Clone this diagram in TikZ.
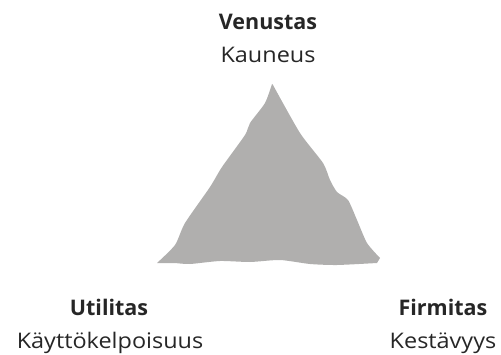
\documentclass[tikz,border=0pt]{standalone}
\usepackage{fontspec}
\setmainfont{Open Sans}
\newfontfamily\widefont[FakeStretch = 1.09]{Open Sans}
\usetikzlibrary{positioning}

\definecolor{rockgray}{HTML}{B0AFAE}
\definecolor{textgray}{HTML}{262626}

\tikzset{
	latin/.style = {font = \fontsize{21.5}{24}\selectfont\bfseries, text = textgray, inner sep = 0pt, anchor = base},
	finnish/.style = {font = \widefont\fontsize{21.5}{24}\selectfont, text = textgray, inner sep = 0pt, anchor = base}
}

\begin{document}
\begin{tikzpicture}[x = 1pt, y = 1pt]

	% Frame
	
	\useasboundingbox (0, 0) rectangle (501, 354);

	% Rough triangle
	
	\fill [rockgray]
		plot [smooth, tension = 0.4] coordinates {(272, 270) (265, 251) (250, 231) (245, 219) (222, 187) (210, 167) (185, 131) (175, 109) (157, 91)}
		-- plot [smooth, tension = 0.4] coordinates {(175, 91) (190, 90) (220, 93) (250, 92) (280, 94) (310, 90) (337, 89) (377, 91)}
		-- plot [smooth, tension = 0.4] coordinates {(380, 96) (367, 111) (357, 134) (348, 154) (337, 162) (330, 174) (323, 191) (300, 221) (273, 269)}
		-- cycle;
	
	% Top corner
	
	\node [latin] (venustas) at (268, 324) {Venustas};
	\node [finnish] (kauneus) at (268, 291) {Kauneus};
	
	% Left corner
	
	\node [latin] (utilitas) at (109, 39) {Utilitas};
	\node [finnish] (kaytto) at (110, 6) {Käyttökelpoisuus};
	
	% Right corner
	
	\node [latin] (firmitas) at (443, 39) {Firmitas};
	\node [finnish] (kesto) at (443, 6) {Kestävyys};

\end{tikzpicture}
\end{document}
